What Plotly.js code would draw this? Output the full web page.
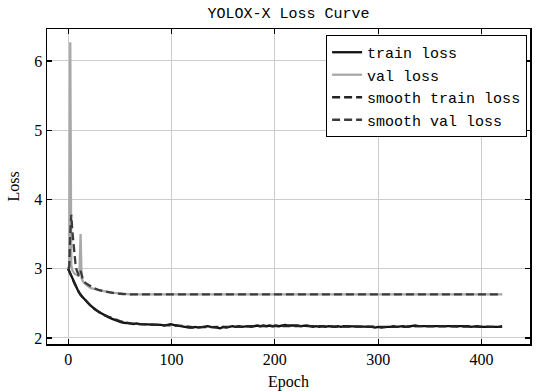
<!DOCTYPE html>
<html>
<head>
<meta charset="utf-8">
<script src="https://cdn.plot.ly/plotly-3.0.1.min.js"></script>
<style>html,body{margin:0;padding:0;background:#fff;}#chart{width:539px;height:391px;}</style>
</head>
<body>
<div id="chart"></div>
<script>
// ---- data ----
const trainEpochStep = 3;
const trainLoss = [3.00,2.90,2.78,2.70,2.62,2.57,2.52,2.48,2.44,2.40,2.37,2.35,2.32,2.30,2.28,2.26,2.25,2.23,2.22,2.22,
2.21,2.20,2.21,2.20,2.20,2.19,2.20,2.19,2.19,2.20,2.19,2.18,2.19,2.20,2.19,2.18,2.17,2.16,2.16,2.15,
2.15,2.16,2.15,2.16,2.16,2.17,2.16,2.16,2.15,2.14,2.16,2.15,2.16,2.17,2.16,2.17,2.16,2.17,2.17,2.16,
2.17,2.18,2.17,2.18,2.17,2.18,2.17,2.18,2.17,2.18,2.19,2.18,2.18,2.19,2.18,2.17,2.18,2.18,2.17,2.16,
2.17,2.16,2.17,2.16,2.17,2.16,2.16,2.17,2.16,2.17,2.17,2.16,2.16,2.17,2.16,2.16,2.17,2.16,2.16,2.15,
2.16,2.15,2.16,2.16,2.16,2.17,2.16,2.17,2.17,2.16,2.17,2.17,2.18,2.17,2.17,2.18,2.17,2.17,2.18,2.17,
2.18,2.17,2.18,2.17,2.17,2.18,2.17,2.17,2.18,2.17,2.16,2.17,2.17,2.16,2.16,2.15,2.16,2.15,2.16,2.16,2.17];

const valEpochs = [0,1,2,3,4,5,6,7,8,9,10,11,12,13,14,15,16,18,20,22,25,28,31,35,40,45,50,60,100,150,200,250,300,350,400,420];
const valLoss   = [3.00,3.05,6.27,3.05,2.98,2.95,2.93,2.92,2.91,2.90,2.90,2.95,3.50,2.86,2.82,2.80,2.79,2.76,2.74,2.72,2.71,2.69,2.68,2.67,2.66,2.65,2.64,2.63,2.63,2.63,2.63,2.63,2.63,2.63,2.63,2.63];

const smoothTrainEpochs = [0,2,4,6,8,10,14,18,22,26,30,35,40,45,50,55,60,70,80,90,100,110,120,140,160,180,200,220,240,260,280,300,320,340,360,380,400,420];
const smoothTrainLoss   = [3.00,2.94,2.86,2.79,2.73,2.67,2.59,2.52,2.46,2.41,2.37,2.33,2.30,2.27,2.245,2.225,2.21,2.20,2.195,2.19,2.19,2.175,2.155,2.155,2.16,2.17,2.17,2.18,2.17,2.165,2.16,2.16,2.16,2.17,2.17,2.17,2.165,2.16];

const smoothValEpochs = [0,1,2,3,4,5,6,7,8,9,10,11,12,13,14,17,21,25,30,38,45,53,60,100,200,300,420];
const smoothValLoss   = [3.00,3.02,3.50,3.78,3.55,3.35,3.20,3.08,2.99,2.94,2.91,2.92,2.97,2.92,2.86,2.79,2.75,2.72,2.69,2.66,2.645,2.635,2.63,2.63,2.63,2.63,2.63];

const seriesNames = ['train loss','val loss','smooth train loss','smooth val loss'];
const xTicks = [0,100,200,300,400];
const yTicks = [2,3,4,5,6];

const trainEpochs = trainLoss.map((_, i) => i * trainEpochStep);

const serif = 'Liberation Serif, serif';
const mono = 'Liberation Mono, monospace';

const traces = [
  {x: trainEpochs, y: trainLoss, name: seriesNames[0], mode: 'lines', line: {color: '#111111', width: 2.3}},
  {x: valEpochs, y: valLoss, name: seriesNames[1], mode: 'lines', line: {color: '#a8a8a8', width: 2.3}},
  {x: smoothTrainEpochs, y: smoothTrainLoss, name: seriesNames[2], mode: 'lines', line: {color: '#222222', width: 2.3, dash: '8px,4px'}},
  {x: smoothValEpochs, y: smoothValLoss, name: seriesNames[3], mode: 'lines', line: {color: '#3c3c3c', width: 2.3, dash: '8px,4px'}}
];

const axisCommon = {
  showline: true, linecolor: '#000', linewidth: 1.5, mirror: 'allticks',
  ticks: 'inside', ticklen: 5, tickcolor: '#000', tickwidth: 1.2,
  showgrid: true, gridcolor: '#cccccc', gridwidth: 1, zeroline: false, automargin: false,
  tickfont: {family: serif, size: 16, color: '#000'}
};

const layout = {
  width: 539, height: 391,
  margin: {l: 47, r: 9, t: 29, b: 47, autoexpand: false},
  paper_bgcolor: '#fff', plot_bgcolor: '#fff',
  title: {text: 'YOLOX-X Loss Curve', font: {family: mono, size: 15, color: '#000'}, x: 0.5, xref: 'paper', xanchor: 'center', y: 0.967, yref: 'container', yanchor: 'middle'},
  xaxis: Object.assign({}, axisCommon, {range: [-20.5, 447], tickvals: xTicks, ticktext: xTicks.map(String),
    title: {text: 'Epoch', font: {family: serif, size: 16, color: '#000'}, standoff: 9}}),
  yaxis: Object.assign({}, axisCommon, {range: [1.913, 6.462], tickvals: yTicks, ticktext: yTicks.map(String),
    title: {text: 'Loss', font: {family: serif, size: 16, color: '#000'}, standoff: 10}}),
  showlegend: true,
  legend: {x: 0.994, y: 0.981, xanchor: 'right', yanchor: 'top', bgcolor: '#fff', bordercolor: '#000', borderwidth: 1,
    font: {family: mono, size: 15, color: '#000'}, itemwidth: 30, tracegroupgap: 0}
};

Plotly.newPlot('chart', traces, layout, {staticPlot: true, displayModeBar: false});
</script>
</body>
</html>
